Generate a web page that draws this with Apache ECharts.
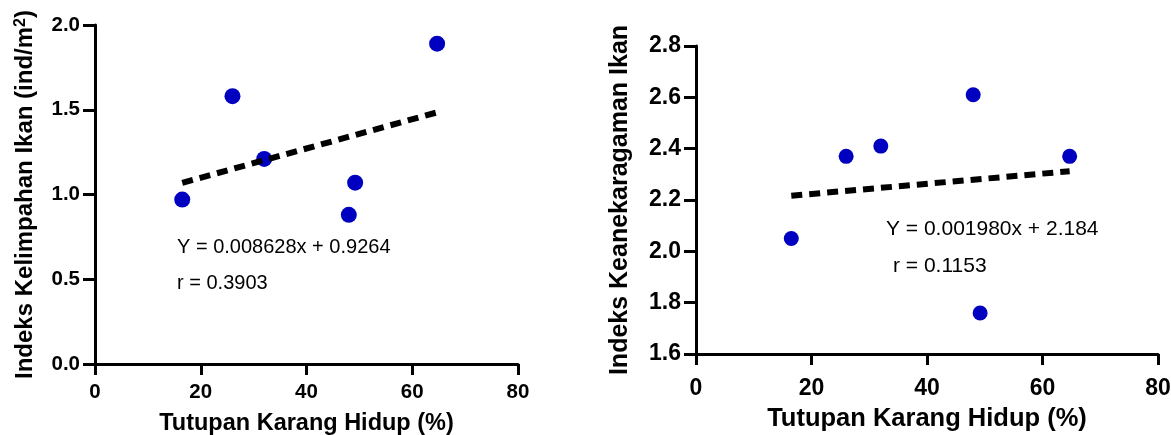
<!DOCTYPE html>
<html><head><meta charset="utf-8">
<script src="https://cdn.jsdelivr.net/npm/echarts@6/dist/echarts.min.js"></script>
<style>html,body{margin:0;padding:0;background:#fff}#c{width:1171px;height:435px}</style>
</head><body><div id="c"></div>
<script>
// ---- data ----
const coralCover = [16.5, 26.0, 32.0, 48.0, 49.2, 64.7];          // Tutupan Karang Hidup (%)
const abundance  = [0.97, 1.58, 1.21, 0.88, 1.07, 1.89];          // Indeks Kelimpahan Ikan
const diversity  = [2.05, 2.37, 2.41, 2.61, 1.76, 2.37];          // Indeks Keanekaragaman Ikan
const fitAbund   = { slope: 0.008628, intercept: 0.9264, r: '0.3903', eq: 'Y = 0.008628x + 0.9264' };
const fitDiv     = { slope: 0.001980, intercept: 2.184,  r: '0.1153', eq: 'Y = 0.001980x + 2.184' };
const xTicks     = { min: 0, max: 80, interval: 20 };
const yTicksA    = { min: 0, max: 2.0, interval: 0.5 };
const yTicksB    = { min: 1.6, max: 2.8, interval: 0.2 };

const FONT = 'Liberation Sans, Arial, sans-serif';
const BLUE = '#0000c0';

const pts = (xs, ys) => xs.map((x, i) => [x, ys[i]]);
const fitLine = (xs, f) => {
  const lo = Math.min(...xs), hi = Math.max(...xs);
  return [[lo, f.intercept + f.slope * lo], [hi, f.intercept + f.slope * hi]];
};

function xAxisCfg(gridIndex, labelSize, nameSize, nameGap, labelMargin) {
  return {
    type: 'value', gridIndex, min: xTicks.min, max: xTicks.max, interval: xTicks.interval,
    axisLine: { show: true, lineStyle: { color: '#000', width: 3 } },
    axisTick: { show: true, length: 11, lineStyle: { color: '#000', width: 3 } },
    splitLine: { show: false },
    axisLabel: { color: '#000', fontWeight: 'bold', fontSize: labelSize, fontFamily: FONT, margin: labelMargin },
    name: 'Tutupan Karang Hidup (%)', nameLocation: 'middle', nameGap,
    nameTextStyle: { color: '#000', fontWeight: 'bold', fontSize: nameSize, fontFamily: FONT }
  };
}
function yAxisCfg(gridIndex, t, name, labelSize, nameSize, nameGap) {
  return {
    type: 'value', gridIndex, min: t.min, max: t.max, interval: t.interval,
    axisLine: { show: true, lineStyle: { color: '#000', width: 3 } },
    axisTick: { show: true, length: 12, lineStyle: { color: '#000', width: 3 } },
    splitLine: { show: false },
    axisLabel: { color: '#000', fontWeight: 'bold', fontSize: labelSize, fontFamily: FONT, margin: 15,
                 formatter: v => Number(v).toFixed(1) },
    name, nameLocation: 'middle', nameGap, nameRotate: 90,
    nameTextStyle: { color: '#000', fontWeight: 'bold', fontSize: nameSize, fontFamily: FONT,
      rich: { sup: { fontSize: 16, fontWeight: 'bold', fontFamily: FONT, color: '#000', verticalAlign: 'top', lineHeight: 24 } } }
  };
}

const chart = echarts.init(document.getElementById('c'), null, { renderer: 'canvas' });
chart.setOption({
  backgroundColor: '#fff',
  animation: false,
  grid: [
    { left: 95, top: 25, width: 423, height: 339, containLabel: false, outerBoundsMode: 'none' },
    { left: 696, top: 46, width: 462, height: 308, containLabel: false, outerBoundsMode: 'none' }
  ],
  xAxis: [xAxisCfg(0, 20.5, 23.5, 48, 18), xAxisCfg(1, 23, 25.5, 52, 23)],
  yAxis: [
    yAxisCfg(0, yTicksA, 'Indeks Kelimpahan Ikan (ind/m{sup|2})', 20.5, 24, 58),
    yAxisCfg(1, yTicksB, 'Indeks Keanekaragaman Ikan', 23, 25, 63)
  ],
  series: [
    { type: 'scatter', xAxisIndex: 0, yAxisIndex: 0, data: pts(coralCover, abundance),
      symbol: 'circle', symbolSize: 16, itemStyle: { color: BLUE, opacity: 1 }, z: 2 },
    { type: 'line', xAxisIndex: 0, yAxisIndex: 0, data: fitLine(coralCover, fitAbund),
      showSymbol: false, symbol: 'none', z: 3,
      lineStyle: { color: '#000', width: 6, type: [11, 7] } },
    { type: 'scatter', xAxisIndex: 1, yAxisIndex: 1, data: pts(coralCover, diversity),
      symbol: 'circle', symbolSize: 15, itemStyle: { color: BLUE, opacity: 1 }, z: 2 },
    { type: 'line', xAxisIndex: 1, yAxisIndex: 1, data: fitLine(coralCover, fitDiv),
      showSymbol: false, symbol: 'none', z: 3,
      lineStyle: { color: '#000', width: 6, type: [11, 7] } }
  ],
  graphic: [
    { type: 'text', x: 177, y: 247, style: { text: fitAbund.eq, fontSize: 20, fontFamily: FONT, fill: '#000', verticalAlign: 'middle' } },
    { type: 'text', x: 177, y: 283, style: { text: 'r = ' + fitAbund.r, fontSize: 20, fontFamily: FONT, fill: '#000', verticalAlign: 'middle' } },
    { type: 'text', x: 886, y: 229, style: { text: fitDiv.eq, fontSize: 21, fontFamily: FONT, fill: '#000', verticalAlign: 'middle' } },
    { type: 'text', x: 893, y: 266, style: { text: 'r = ' + fitDiv.r, fontSize: 21, fontFamily: FONT, fill: '#000', verticalAlign: 'middle' } }
  ]
});
</script></body></html>
